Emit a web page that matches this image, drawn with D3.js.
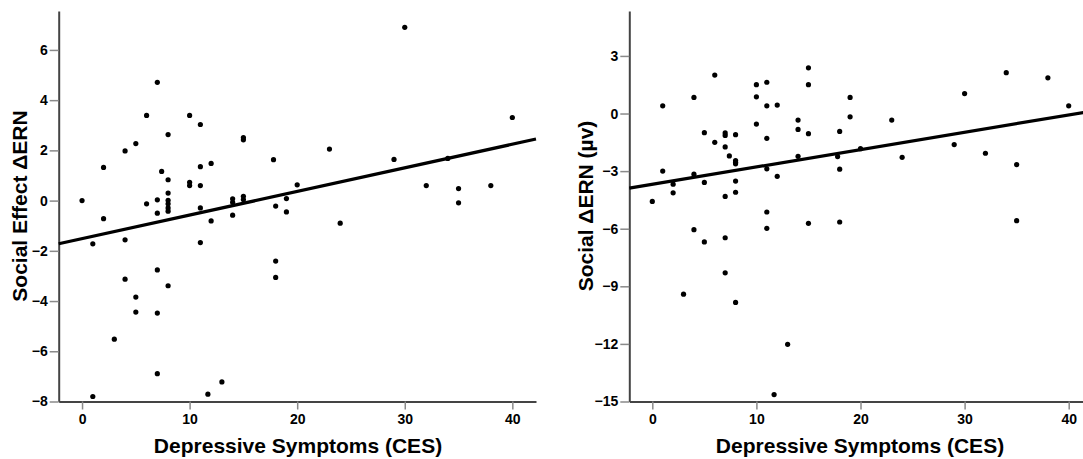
<!DOCTYPE html>
<html>
<head>
<meta charset="utf-8">
<script src="https://cdn.jsdelivr.net/npm/d3@7"></script>
<style>
  html, body { margin: 0; padding: 0; background: #fff; }
  svg { display: block; }
  text { font-family: Arial, "Liberation Sans", sans-serif; font-weight: bold; fill: #000; }
</style>
</head>
<body>
<svg id="chart" width="1083" height="459"></svg>
<script>
// ---------- DATA ----------
const xTicks = [0, 10, 20, 30, 40];

// Left panel: Social Effect ΔERN vs CES
const leftX = [0,1,1,2,2,3,4,4,4,5,5,5,6,6,7,7,7,7,7,7,7.4,8,8,8,8,8,8,8,8,10,10,10,11,11,11,11,11,11.7,12,12,13,14,14,14,15,15,15,15,17.8,18,18,18,19,19,20,23,24,29,30,32,34,35,35,38,40];
const leftY = [0,-1.72,-7.8,1.32,-0.72,-5.52,1.98,-1.56,-3.13,2.27,-3.84,-4.44,3.39,-0.13,4.71,0.03,-0.5,-2.76,-4.48,-6.89,1.16,2.63,0.83,0.3,0.01,-0.13,-0.29,-0.42,-3.39,3.39,0.73,0.6,3.03,1.35,0.6,-0.29,-1.67,-7.71,1.48,-0.81,-7.22,0.07,-0.07,-0.58,2.51,2.42,0.17,0.04,1.63,-0.22,-2.41,-3.06,0.08,-0.45,0.63,2.05,-0.9,1.64,6.9,0.6,1.68,0.48,-0.09,0.6,3.31];
const leftYTicks = [-8, -6, -4, -2, 0, 2, 4, 6];
const leftFit = [-1.516, 0.094]; // intercept, slope

// Right panel: Social ΔERN (µv) vs CES
const rightX = [0,1,1,2,2,3,4,4,4,5,5,5,6,6,7,7,7,7,7,7,7.4,8,8,8,8,8,8,8,10,10,10,11,11,11,11,11,11,11.7,12,12,13,14,14,14,15,15,15,15,17.8,18,18,18,19,19,20,23,24,29,30,32,34,35,35,38,40];
const rightY = [-4.58,0.4,-3.0,-3.68,-4.13,-9.41,0.84,-3.16,-6.05,-1.0,-3.59,-6.69,2.0,-1.5,-1.01,-1.14,-1.74,-4.32,-6.47,-8.3,-2.21,-1.1,-2.45,-2.54,-2.62,-3.52,-4.1,-9.84,1.5,0.87,-0.55,1.63,0.4,-1.29,-2.88,-5.13,-5.98,-14.64,0.44,-3.27,-12.02,-0.34,-0.83,-2.23,2.38,1.5,-1.05,-5.72,-2.24,-0.93,-2.9,-5.65,0.84,-0.17,-1.83,-0.34,-2.28,-1.62,1.04,-2.07,2.13,-2.66,-5.58,1.86,0.4];
const rightYTicks = [-15, -12, -9, -6, -3, 0, 3];
const rightFit = [-3.69, 0.0904];

const xLabel = "Depressive Symptoms (CES)";
const leftYLabel = "Social Effect \u0394ERN";
const rightYLabel = "Social \u0394ERN (\u00b5v)";

// ---------- DRAW ----------
const svg = d3.select("#chart");

function panel(cfg) {
  const g = svg.append("g");
  const x = d3.scaleLinear().domain(cfg.xDomain).range(cfg.xRange);
  const y = d3.scaleLinear().domain(cfg.yDomain).range(cfg.yRange);

  // x axis
  const xa = g.append("g")
    .attr("transform", `translate(0,${cfg.yRange[0]})`)
    .call(d3.axisBottom(x).tickValues(xTicks).tickSize(8).tickPadding(5).tickSizeOuter(0));
  // y axis
  const ya = g.append("g")
    .attr("transform", `translate(${cfg.xRange[0]},0)`)
    .call(d3.axisLeft(y).tickValues(cfg.yTicks).tickSize(9).tickPadding(2).tickSizeOuter(0));

  [xa, ya].forEach(a => {
    a.select(".domain").attr("stroke", "#444").attr("stroke-width", 2);
    a.selectAll(".tick line").attr("stroke", "#8a8a8a").attr("stroke-width", 1.5);
    a.selectAll(".tick text")
      .attr("font-size", 14)
      .attr("font-family", 'Arial, "Liberation Sans", sans-serif')
      .attr("font-weight", "bold")
      .attr("fill", "#000");
  });

  // points
  g.append("g").selectAll("circle")
    .data(cfg.xs.map((d, i) => [d, cfg.ys[i]]))
    .join("circle")
    .attr("cx", d => x(d[0]))
    .attr("cy", d => y(d[1]))
    .attr("r", 2.6)
    .attr("fill", "#000");

  // fit line
  const [b0, b1] = cfg.fit;
  const x0 = cfg.xDomain[0], x1 = cfg.xDomain[1];
  g.append("line")
    .attr("x1", x(x0)).attr("y1", y(b0 + b1 * x0))
    .attr("x2", x(x1)).attr("y2", y(b0 + b1 * x1))
    .attr("stroke", "#000").attr("stroke-width", 3.2);

  // labels
  g.append("text")
    .attr("x", cfg.xLabelX).attr("y", 453)
    .attr("text-anchor", "middle")
    .attr("font-size", 21)
    .text(xLabel);
  g.append("text")
    .attr("transform", `translate(${cfg.yLabelX},${cfg.yLabelY}) rotate(-90)`)
    .attr("text-anchor", "middle")
    .attr("font-size", 21)
    .text(cfg.yLabel);
}

panel({
  xs: leftX, ys: leftY, fit: leftFit, yTicks: leftYTicks,
  xDomain: [-2.17, 42.2], xRange: [58.7, 536],
  yDomain: [-8, 7.55], yRange: [401.5, 11],
  yLabel: leftYLabel, yLabelX: 27, yLabelY: 206, xLabelX: 298
});

panel({
  xs: rightX, ys: rightY, fit: rightFit, yTicks: rightYTicks,
  xDomain: [-2.21, 42.2], xRange: [629.3, 629.3 + 44.41 * 10.41],
  yDomain: [-15, 5.34], yRange: [401.5, 11],
  yLabel: rightYLabel, yLabelX: 593, yLabelY: 206, xLabelX: 860
});
</script>
</body>
</html>
